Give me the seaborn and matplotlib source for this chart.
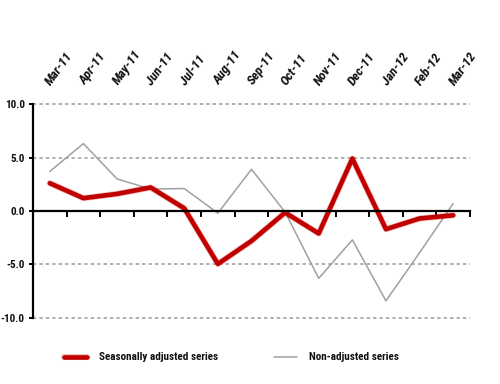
import matplotlib
matplotlib.use("Agg")
import matplotlib.pyplot as plt
import matplotlib.patheffects as pe
import matplotlib.transforms as mtransforms
from matplotlib.ticker import FixedLocator, FormatStrFormatter
import seaborn as sns
import pandas as pd
import numpy as np

months = ["Mar-11", "Apr-11", "May-11", "Jun-11", "Jul-11", "Aug-11", "Sep-11",
          "Oct-11", "Nov-11", "Dec-11", "Jan-12", "Feb-12", "Mar-12"]
seasonally_adjusted = [2.6, 1.2, 1.6, 2.2, 0.25, -4.95, -2.8, -0.15, -2.1, 4.9, -1.7, -0.7, -0.4]
non_adjusted = [3.7, 6.3, 3.0, 2.05, 2.1, -0.2, 3.9, -0.1, -6.3, -2.7, -8.4, -3.9, 0.7]
y_ticks = [-10, -5, 0, 5, 10]

sns.set_style("white")
plt.rcParams['font.family'] = ['Roboto Condensed', 'Roboto', 'DejaVu Sans']

pos = np.arange(len(months))
df = pd.DataFrame({"pos": pos, "sa": seasonally_adjusted, "na": non_adjusted})

fig = plt.figure(figsize=(5, 3.84), dpi=100)
ax = fig.add_axes([0.066, 0.172, 0.874, 0.557])

sns.lineplot(data=df, x="pos", y="na", ax=ax, color="#a0a0a0", linewidth=1.1,
             label="Non-adjusted series", zorder=3)
sns.lineplot(data=df, x="pos", y="sa", ax=ax, color="#c00000", linewidth=3.3,
             label="Seasonally adjusted series", zorder=4,
             path_effects=[pe.withStroke(linewidth=4.4, foreground=(0.85, 0.15, 0.15, 0.3))])

ax.set_xlim(-0.5, len(months) - 0.5)
ax.set_ylim(-10, 10)
ax.set_xlabel("")
ax.set_ylabel("")

# spines
ax.spines['top'].set_visible(False)
ax.spines['right'].set_visible(False)
ax.spines['left'].set_linewidth(1.6)
ax.spines['left'].set_color('black')
ax.spines['bottom'].set_position(('data', 0))
ax.spines['bottom'].set_linewidth(1.6)
ax.spines['bottom'].set_color('black')
ax.spines['bottom'].set_zorder(5)

# x ticks: labels on top, tick marks at boundaries on zero line
ax.xaxis.set_major_locator(FixedLocator(pos))
ax.set_xticklabels(months)
ax.xaxis.set_minor_locator(FixedLocator(np.arange(len(months) + 1) - 0.5))
ax.tick_params(axis='x', which='major', length=0, bottom=False, top=False,
               labelbottom=False, labeltop=True, pad=12)
ax.tick_params(axis='x', which='minor', bottom=True, direction='out', length=4,
               width=1.4, color='black')
offset = mtransforms.ScaledTranslation(4 / 100, 0, fig.dpi_scale_trans)
for lab in ax.get_xticklabels():
    lab.set_rotation(54)
    lab.set_ha('left')
    lab.set_va('bottom')
    lab.set_rotation_mode('anchor')
    lab.set_fontsize(9.5)
    lab.set_fontweight('bold')
    lab.set_fontstyle('italic')
    lab.set_color('#111111')
    lab.set_transform(lab.get_transform() + offset)

# y ticks
ax.set_yticks(y_ticks)
ax.yaxis.set_major_formatter(FormatStrFormatter('%.1f'))
ax.tick_params(axis='y', which='major', left=True, direction='out', length=3,
               width=1.4, color='black', labelsize=8, pad=3)
for lab in ax.get_yticklabels():
    lab.set_fontweight('bold')
    lab.set_color('#111111')

# dotted grid lines at non-zero ticks
for v in y_ticks:
    if v != 0:
        ax.axhline(v, color='#9a9a9a', linestyle=(0, (2.2, 2.0)), linewidth=1.1,
                   zorder=1, clip_on=False)

# legend
handles, labels = ax.get_legend_handles_labels()
order = [labels.index("Seasonally adjusted series"), labels.index("Non-adjusted series")]
ax.get_legend().remove()
leg = fig.legend([handles[i] for i in order], [labels[i] for i in order],
                 loc='lower center', bbox_to_anchor=(0.463, 0.03), ncol=2,
                 frameon=False, fontsize=8, handlelength=2.1, columnspacing=5.0,
                 handletextpad=1.1)
for t in leg.get_texts():
    t.set_fontweight('bold')
    t.set_color('#111111')

fig.savefig("out.png", dpi=100)
